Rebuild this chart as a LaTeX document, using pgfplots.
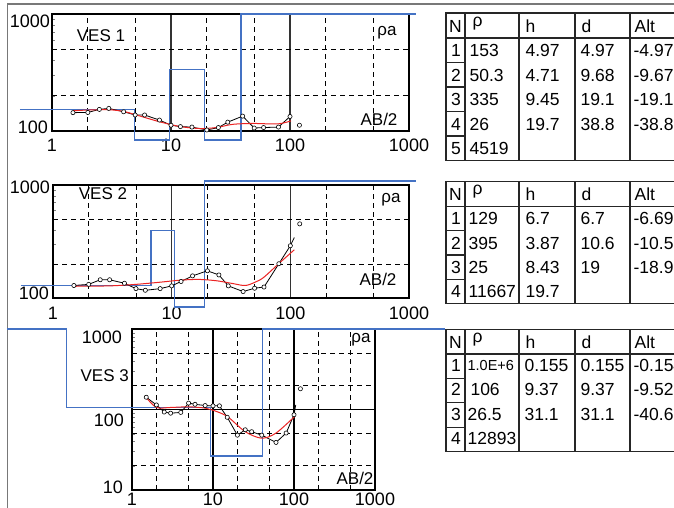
\documentclass[border=0pt]{standalone}
\usepackage{fontspec}
\setmainfont{Liberation Sans}
\usepackage{pgfplots}
\pgfplotsset{compat=1.18}
\definecolor{model}{RGB}{68,114,196}
\definecolor{fit}{RGB}{235,35,35}
\definecolor{framegray}{RGB}{120,120,120}

\tikzset{
  vesobs/.style={black, line width=0.8pt, mark=*, mark size=2.1pt,
    mark options={solid, fill=white, draw=black, line width=0.6pt}},
  vesiso/.style={draw=none, mark=*, mark size=2.1pt,
    mark options={fill=white, draw=black, line width=0.6pt}},
  vesfit/.style={fit, line width=1pt, smooth},
  vesmodel/.style={model, line width=1.2pt},
}
\newcommand{\lbl}{\fontsize{17}{17}\selectfont}
\newcommand{\tkl}{\fontsize{18}{18}\selectfont}
\newcommand{\tfont}{\fontsize{17.5}{17.5}\selectfont}

\begin{document}
\begin{tikzpicture}[x=1pt,y=1pt]
\useasboundingbox (0,0) rectangle (674,508);
\clip (0,0) rectangle (674,508);
\fill[white] (0,0) rectangle (674,508);

% frame
\draw[framegray, line width=1.5pt] (7.5,0) -- (7.5,508-4) -- (674,508-4);

% ---------- VES 1 ----------
\begin{axis}[at={(52pt,377pt)}, anchor=south west,
    scale only axis, clip=false, width=357pt, height=117pt,
    xmode=log, ymode=log, xmin=1, xmax=1000, ymin=100, ymax=1000,
    axis line style={black, line width=1.3pt},
    tick align=inside, ytick pos=left, xtick pos=bottom,
    major tick length=0pt, minor tick length=3.5pt, xminorticks=false,
    xtick={1,10,100,1000}, xticklabels={1,10,100,1000},
    ytick={100,1000}, yticklabels={},
    minor ytick={200,300,400,500,600,700,800,900},
    xmajorgrids, ymajorgrids,
    major grid style={solid, black!80, line width=1.2pt},
    extra x ticks={2,5,20,50,200,500}, extra x tick labels={},
    extra y ticks={200,500}, extra y tick labels={},
    extra x tick style={grid=major, major grid style={black, line width=0.8pt, dash pattern=on 5pt off 4pt}},
    extra y tick style={grid=major, major grid style={black, line width=0.8pt, dash pattern=on 5pt off 4pt}},
    xticklabel style={font=\tkl, inner sep=0pt, anchor=north, yshift=-8pt}]
  \addplot[vesmodel] coordinates {(0.538,153) (4.97,153) (4.97,83.8) (9.68,83.8)
    (9.68,335) (19.1,335) (19.1,83.8) (38.8,83.8) (38.8,1000) (1145,1000)};
  \addplot[vesobs] coordinates {(1.5,143.5) (2,144) (2.5,153) (3,156) (4,146) (5,137)
    (6,137) (8,124) (10,112) (12,109) (15,108) (20,102) (25,107) (30,119) (40,134)
    (50,106) (60,107) (80,108) (100,133)};
  \addplot[vesiso] coordinates {(120,112)};
  \addplot[vesfit] coordinates {(1.5,149) (2,151) (3,152) (4,147) (5,138) (8,120)
    (12,109) (17.5,105) (24,107) (33,114) (49,116) (79,115) (102,122)};
\end{axis}

% ---------- VES 2 ----------
\begin{axis}[at={(53pt,210pt)}, anchor=south west,
    scale only axis, clip=false, width=356pt, height=113pt,
    xmode=log, ymode=log, xmin=1, xmax=1000, ymin=100, ymax=1000,
    axis line style={black, line width=1.3pt},
    tick align=inside, ytick pos=left, xtick pos=bottom,
    major tick length=0pt, minor tick length=3.5pt, xminorticks=false,
    xtick={1,10,100,1000}, xticklabels={1,10,100,1000},
    ytick={100,1000}, yticklabels={},
    minor ytick={200,300,400,500,600,700,800,900},
    xmajorgrids, ymajorgrids,
    major grid style={solid, black!80, line width=1.2pt},
    extra x ticks={2,5,20,50,200,500}, extra x tick labels={},
    extra y ticks={200,500}, extra y tick labels={},
    extra x tick style={grid=major, major grid style={black, line width=0.8pt, dash pattern=on 5pt off 4pt}},
    extra y tick style={grid=major, major grid style={black, line width=0.8pt, dash pattern=on 5pt off 4pt}},
    xticklabel style={font=\tkl, inner sep=0pt, anchor=north, yshift=-9pt}]
  \addplot[vesmodel] coordinates {(0.537,129) (6.7,129) (6.7,395) (10.6,395)
    (10.6,83.3) (19,83.3) (19,1084) (1145,1084)};
  \addplot[black, line width=0.8pt] coordinates {(100,290) (108,343)};
  \addplot[vesobs] coordinates {(1.5,129) (2,132) (2.5,145) (3,145) (4,135) (5,121)
    (6,117) (8,121) (10,128) (12,140) (15,157) (20,174) (25,160) (30,128) (40,114)
    (50,122) (60,125) (80,201) (100,290)};
  \addplot[vesiso] coordinates {(120,453)};
  \addplot[vesfit] coordinates {(1.5,127) (3,128) (5,132) (8,138) (12,144) (17,146)
    (24,142) (33,134) (42,129) (52,140) (60,153) (81,204) (108,267)};
\end{axis}

% ---------- VES 3 ----------
\begin{axis}[at={(132pt,18pt)}, anchor=south west,
    scale only axis, clip=false, width=243pt, height=161pt,
    xmode=log, ymode=log, xmin=1, xmax=1000, ymin=10, ymax=1000,
    axis line style={black, line width=1.3pt},
    tick align=inside, ytick pos=left, xtick pos=bottom,
    major tick length=0pt, minor tick length=3.5pt, xminorticks=false,
    xtick={1,10,100,1000}, xticklabels={1,10,100,1000},
    ytick={10,100,1000}, yticklabels={},
    minor ytick={20,30,40,50,60,70,80,90,200,300,400,500,600,700,800,900},
    xmajorgrids, ymajorgrids,
    major grid style={solid, black, line width=1.1pt},
    extra x ticks={2,5,20,50,200,500}, extra x tick labels={},
    extra y ticks={20,50,200,500}, extra y tick labels={},
    extra x tick style={grid=major, major grid style={black, line width=0.8pt, dash pattern=on 5pt off 4pt}},
    extra y tick style={grid=major, major grid style={black, line width=0.8pt, dash pattern=on 5pt off 4pt}},
    xticklabel style={font=\tkl, inner sep=0pt, anchor=north, yshift=-3pt}]
  \addplot[vesmodel] coordinates {(0.0286,1000) (0.155,1000) (0.155,106) (9.37,106)
    (9.37,26.5) (40.5,26.5) (40.5,1000) (7310,1000)};
  \addplot[black, line width=0.8pt] coordinates {(100,86) (105,114)};
  \addplot[vesobs] coordinates {(1.5,142) (2,114) (2.5,93) (3,90) (4,92) (5,120)
    (6,116) (8,112) (10,111) (12,111) (15,80) (20,48) (25,56) (30,53) (40,48)
    (60,39) (80,51) (100,86)};
  \addplot[vesiso] coordinates {(120,181)};
  \addplot[vesfit] coordinates {(1.5,141) (2,106) (3,106) (5,108) (8,104) (10,98)
    (15,82) (25,53) (40,44) (60,51) (102,82)};
\end{axis}

% ---------- panel texts ----------
\begin{scope}[every node/.style={font=\lbl, inner sep=0pt}]
  \node at (101,508-36) {VES 1};
  \node at (387,508-33) {ρa};
  \node at (379,508-119) {AB/2};
  \node[font=\tkl, anchor=east] at (50,508-21) {1000};
  \node[font=\tkl, anchor=east] at (48,508-127) {100};

  \node at (103,508-194) {VES 2};
  \node at (391,508-200) {ρa};
  \node at (378,508-279) {AB/2};
  \node[font=\tkl, anchor=east] at (50,508-187) {1000};
  \node[font=\tkl, anchor=east] at (49,508-293) {100};

  \node[anchor=east] at (129,508-376) {VES 3};
  \node at (361,508-340) {ρa};
  \node at (355,508-478) {AB/2};
  \node[font=\tkl, anchor=east] at (122,508-337) {1000};
  \node[font=\tkl, anchor=east] at (124,508-420) {100};
  \node[font=\tkl, anchor=east] at (123,508-487) {10};
\end{scope}

% ---------- tables ----------
\begin{scope}[black!85, line width=1.2pt, every node/.style={font=\tfont, inner sep=0pt, text=black}]
  % table 1
  \draw (446,508-13) rectangle (690,508-160.5);
  \draw (446,508-38) -- (690,508-38);
  \foreach \c in {465,519,575,630} \draw (\c,508-13) -- (\c,508-160.5);
  \foreach \i in {1,...,4} \draw (446,508-38-24.5*\i) -- (465,508-38-24.5*\i);
  \node at (455.5,508-26) {N};
  \node[anchor=west] at (472,508-24) {ρ};
  \node[anchor=west] at (525,508-26) {h};
  \node[anchor=west] at (581,508-26) {d};
  \node[anchor=west] at (634,508-26) {Alt};
  \foreach \n/\r/\h/\d/\a [count=\i] in {1/153/4.97/4.97/-4.97, 2/50.3/4.71/9.68/-9.67,
      3/335/9.45/19.1/-19.1, 4/26/19.7/38.8/-38.8, 5/4519/{}/{}/{}} {
    \node at (456,508-38-24.5*\i+12) {\n};
    \node[anchor=west] at (469,508-38-24.5*\i+12) {\r};
    \node[anchor=west] at (525,508-38-24.5*\i+12) {\h};
    \node[anchor=west] at (580,508-38-24.5*\i+12) {\d};
    \node[anchor=west] at (633,508-38-24.5*\i+12) {\a};
  }
  % table 2
  \draw (446,508-181.7) rectangle (690,508-303.3);
  \draw (446,508-206.7) -- (690,508-206.7);
  \foreach \c in {465,519,575,630} \draw (\c,508-181.7) -- (\c,508-303.3);
  \foreach \i in {1,...,3} \draw (446,508-206.7-24.15*\i) -- (465,508-206.7-24.15*\i);
  \node at (455.5,508-194) {N};
  \node[anchor=west] at (472,508-192) {ρ};
  \node[anchor=west] at (525,508-194) {h};
  \node[anchor=west] at (581,508-194) {d};
  \node[anchor=west] at (634,508-194) {Alt};
  \foreach \n/\r/\h/\d/\a [count=\i] in {1/129/6.7/6.7/-6.69, 2/395/3.87/10.6/-10.5,
      3/25/8.43/19/-18.9, 4/11667/19.7/{}/{}} {
    \node at (456,508-206.7-24.15*\i+12) {\n};
    \node[anchor=west] at (468,508-206.7-24.15*\i+12) {\r};
    \node[anchor=west] at (525,508-206.7-24.15*\i+12) {\h};
    \node[anchor=west] at (580,508-206.7-24.15*\i+12) {\d};
    \node[anchor=west] at (633,508-206.7-24.15*\i+12) {\a};
  }
  % table 3
  \draw (446,508-329.5) rectangle (690,508-451.7);
  \draw (446,508-354) -- (690,508-354);
  \foreach \c in {465,519,575,630} \draw (\c,508-329.5) -- (\c,508-451.7);
  \foreach \i in {1,...,3} \draw (446,508-354-24.4*\i) -- (465,508-354-24.4*\i);
  \node at (455.5,508-342) {N};
  \node[anchor=west] at (472,508-340) {ρ};
  \node[anchor=west] at (525,508-342) {h};
  \node[anchor=west] at (581,508-342) {d};
  \node[anchor=west] at (634,508-342) {Alt};
  \foreach \n/\r/\h/\d/\a [count=\i] in {1/{\fontsize{14.5}{14.5}\selectfont 1.0E+6}/0.155/0.155/-0.154,
      2/{\,106}/9.37/9.37/-9.52, 3/26.5/31.1/31.1/-40.6, 4/12893/{}/{}/{}} {
    \node at (456,508-354-24.4*\i+13) {\n};
    \node[anchor=west] at (467,508-354-24.4*\i+13) {\r};
    \node[anchor=west] at (524,508-354-24.4*\i+13) {\h};
    \node[anchor=west] at (580,508-354-24.4*\i+13) {\d};
    \node[anchor=west] at (633,508-354-24.4*\i+13) {\a};
  }
\end{scope}
\end{tikzpicture}
\end{document}
